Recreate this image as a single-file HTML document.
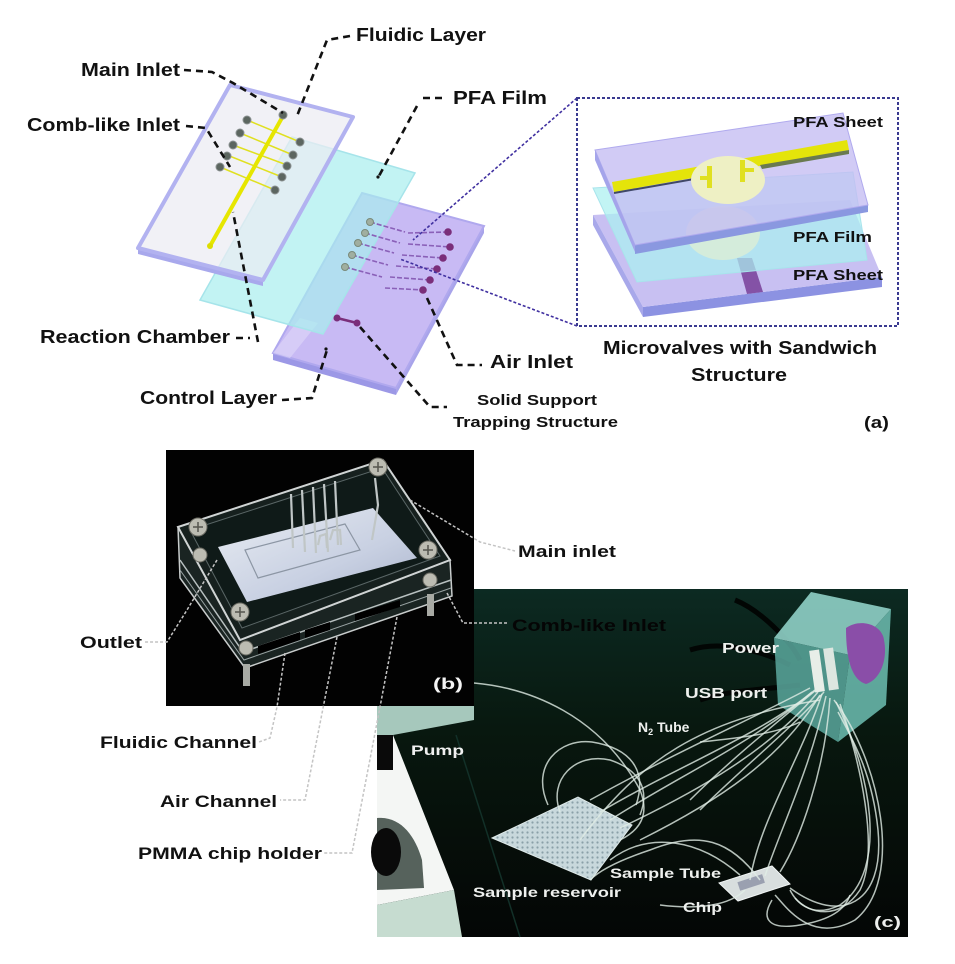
<!DOCTYPE html>
<html><head><meta charset="utf-8"><style>
html,body{margin:0;padding:0;background:#fff;}
svg{display:block;}
text{font-family:"Liberation Sans",Arial,sans-serif;font-weight:bold;}
</style></head><body>
<svg width="955" height="964" viewBox="0 0 955 964" xmlns="http://www.w3.org/2000/svg">
<defs>
<linearGradient id="cbg" x1="0" y1="0" x2="0" y2="1"><stop offset="0" stop-color="#0c2a22"/><stop offset="0.4" stop-color="#08180f"/><stop offset="1" stop-color="#040605"/></linearGradient>
<linearGradient id="chip" x1="0" y1="0" x2="1" y2="1"><stop offset="0" stop-color="#e8ecf2"/><stop offset="0.6" stop-color="#c8d0e2"/><stop offset="1" stop-color="#aab4cc"/></linearGradient>
<pattern id="wells" width="5" height="5" patternUnits="userSpaceOnUse"><rect width="5" height="5" fill="#c8d8dc"/><circle cx="2.5" cy="2.5" r="1.1" fill="#8aa0a8"/></pattern>
</defs>

<!-- ============ PANEL (a) ============ -->
<polygon points="273,353 396,388 396,395 273,360" fill="#9c98e6"/>
<polygon points="484,226 396,388 396,395 484,233" fill="#a8a4ea"/>
<polygon points="362,193 484,226 396,388 273,353" fill="#c8baf4" stroke="#b0a8ee" stroke-width="2"/>
<polygon points="273,353 300,318 318,323 290,358" fill="#dcd4f8" opacity="0.7"/>
<polygon points="292,137 415,173 323,334 200,300" fill="rgba(168,238,238,0.7)" stroke="#a6e4ea" stroke-width="1.5"/>
<polygon points="138,248 263,280 263,286 138,254" fill="#a8a8ec"/>
<polygon points="230,85 353,117 263,280 138,248" fill="rgba(236,236,242,0.72)" stroke="#b2b2f0" stroke-width="4" stroke-linejoin="round"/>
<g stroke="#e0e020" stroke-width="1.5">
<line x1="247" y1="120" x2="300" y2="142"/><line x1="240" y1="133" x2="293" y2="155"/><line x1="233" y1="145" x2="287" y2="165"/><line x1="227" y1="155" x2="282" y2="177"/><line x1="220" y1="167" x2="275" y2="190"/>
</g>
<line x1="283" y1="116" x2="210" y2="246" stroke="#e6e600" stroke-width="4"/>
<circle cx="210" cy="246" r="3" fill="#dddd00"/>
<g fill="#5c6660" stroke="#8a9090" stroke-width="1">
<circle cx="283" cy="115" r="4"/>
<circle cx="247" cy="120" r="4"/><circle cx="240" cy="133" r="4"/><circle cx="233" cy="145" r="4"/><circle cx="227" cy="156" r="4"/><circle cx="220" cy="167" r="4"/>
<circle cx="300" cy="142" r="4"/><circle cx="293" cy="155" r="4"/><circle cx="287" cy="166" r="4"/><circle cx="282" cy="177" r="4"/><circle cx="275" cy="190" r="4"/>
</g>
<g stroke="#8a60b8" stroke-width="1.6" stroke-dasharray="5,2">
<line x1="370" y1="222" x2="405" y2="232"/><line x1="365" y1="233" x2="400" y2="243"/><line x1="358" y1="243" x2="394" y2="253"/><line x1="352" y1="255" x2="388" y2="265"/><line x1="345" y1="267" x2="382" y2="277"/>
<line x1="408" y1="233" x2="448" y2="232"/><line x1="408" y1="244" x2="450" y2="247"/><line x1="402" y1="255" x2="443" y2="258"/><line x1="396" y1="266" x2="437" y2="269"/><line x1="390" y1="277" x2="430" y2="280"/><line x1="385" y1="288" x2="423" y2="290"/>
</g>
<g fill="#a0aea0" stroke="#7a8a7a" stroke-width="1">
<circle cx="370" cy="222" r="3.5"/><circle cx="365" cy="233" r="3.5"/><circle cx="358" cy="243" r="3.5"/><circle cx="352" cy="255" r="3.5"/><circle cx="345" cy="267" r="3.5"/>
</g>
<g fill="#7a2e7a">
<circle cx="448" cy="232" r="3.8"/><circle cx="450" cy="247" r="3.8"/><circle cx="443" cy="258" r="3.8"/><circle cx="437" cy="269" r="3.8"/><circle cx="430" cy="280" r="3.8"/><circle cx="423" cy="290" r="3.8"/>
<circle cx="337" cy="318" r="3.5"/><circle cx="357" cy="323" r="3.5"/>
</g>
<line x1="337" y1="318" x2="357" y2="323" stroke="#7a2e7a" stroke-width="2.5"/>
<circle cx="378" cy="177" r="1.6" fill="#111"/>
<circle cx="326" cy="349" r="1.6" fill="#111"/>

<g stroke="#4030a0" stroke-width="1.6" stroke-dasharray="3,2" fill="none">
<line x1="577" y1="98" x2="413" y2="240"/>
<line x1="577" y1="326" x2="400" y2="259"/>
</g>
<rect x="577" y="98" width="321" height="228" fill="none" stroke="#3a3a90" stroke-width="2" stroke-dasharray="3,2"/>

<polygon points="643,307 882,277 882,287 643,317" fill="#8c92e2"/>
<polygon points="593,215 850,200 882,277 643,307" fill="#c8c0f2"/>
<polygon points="593,215 643,307 643,317 593,225" fill="#a8a8ea"/>
<polygon points="737,258 752,258 763,292 747,294" fill="#8452a6"/>
<polygon points="593,188 853,172 867,260 637,282" fill="rgba(170,240,240,0.72)" stroke="#a8e4ec" stroke-width="1"/>
<ellipse cx="723" cy="233" rx="37" ry="27" fill="#eef4c8" opacity="0.55"/>
<polygon points="635,245 868,205 868,212 635,254" fill="#8a98e0"/>
<polygon points="595,150 843,113 868,205 635,245" fill="rgba(196,188,242,0.78)" stroke="#b0aaee" stroke-width="1"/>
<polygon points="595,150 635,245 635,252 595,160" fill="#a4a4ea"/>
<polygon points="612,182 847,140 849,150 614,192" fill="#e4e40a"/>
<polygon points="760,165 849,150 849,154 762,169" fill="#6a7a50"/>
<line x1="614" y1="193" x2="700" y2="178" stroke="#404868" stroke-width="2"/>
<ellipse cx="728" cy="180" rx="37" ry="24" fill="#eef0c4"/>
<rect x="707" y="166" width="5" height="22" fill="#e0e020"/>
<rect x="740" y="160" width="5" height="22" fill="#e0e020"/>
<rect x="700" y="176" width="10" height="4" fill="#e0e020"/>
<rect x="742" y="168" width="12" height="4" fill="#e0e020"/>

<text x="793" y="127" font-size="15" fill="#111" textLength="90" lengthAdjust="spacingAndGlyphs">PFA Sheet</text>
<text x="793" y="242" font-size="15" fill="#111" textLength="79" lengthAdjust="spacingAndGlyphs">PFA Film</text>
<text x="793" y="280" font-size="15" fill="#111" textLength="90" lengthAdjust="spacingAndGlyphs">PFA Sheet</text>

<g stroke="#111" stroke-width="2.6" stroke-dasharray="7,5" fill="none">
<path d="M350,36 L327,40 L297,116"/>
<path d="M184,70 L212,72 L233,83 L283,113"/>
<path d="M186,126 L206,128 L230,167"/>
<path d="M236,338 L250,338"/>
<path d="M258,342 L233,212"/>
<path d="M282,400 L312,398 L327,350"/>
<path d="M423,98 L447,98"/>
<path d="M417,106 L379,176"/>
<path d="M427,298 L457,365 L482,365"/>
<path d="M360,327 L430,407 L447,407"/>
</g>

<text x="356" y="41" font-size="18" fill="#111" textLength="130" lengthAdjust="spacingAndGlyphs">Fluidic Layer</text>
<text x="81" y="76" font-size="18" fill="#111" textLength="99" lengthAdjust="spacingAndGlyphs">Main Inlet</text>
<text x="27" y="131" font-size="18" fill="#111" textLength="153" lengthAdjust="spacingAndGlyphs">Comb-like Inlet</text>
<text x="40" y="343" font-size="18" fill="#111" textLength="190" lengthAdjust="spacingAndGlyphs">Reaction Chamber</text>
<text x="140" y="404" font-size="18" fill="#111" textLength="137" lengthAdjust="spacingAndGlyphs">Control Layer</text>
<text x="453" y="104" font-size="18" fill="#111" textLength="94" lengthAdjust="spacingAndGlyphs">PFA Film</text>
<text x="490" y="368" font-size="18" fill="#111" textLength="83" lengthAdjust="spacingAndGlyphs">Air Inlet</text>
<text x="477" y="405" font-size="15" fill="#111" textLength="120" lengthAdjust="spacingAndGlyphs">Solid Support</text>
<text x="453" y="427" font-size="15" fill="#111" textLength="165" lengthAdjust="spacingAndGlyphs">Trapping Structure</text>
<text x="603" y="354" font-size="18" fill="#111" textLength="274" lengthAdjust="spacingAndGlyphs">Microvalves with Sandwich</text>
<text x="691" y="381" font-size="18" fill="#111" textLength="96" lengthAdjust="spacingAndGlyphs">Structure</text>
<text x="864" y="428" font-size="17" fill="#111" textLength="25" lengthAdjust="spacingAndGlyphs">(a)</text>

<!-- ============ PANEL (c) ============ -->
<rect x="377" y="589" width="531" height="348" fill="url(#cbg)"/>
<polygon points="377,706 474,706 474,720 393,735 377,735" fill="#a6c8bc"/>
<polygon points="377,735 393,735 393,770 377,770" fill="#0a0a0a"/>
<polygon points="377,770 393,770 393,735 454,890 377,905" fill="#f4f6f4"/>
<polygon points="377,905 454,890 462,937 377,937" fill="#c6dcd0"/>
<path d="M377,818 C400,816 415,835 422,860 L424,888 L377,890 Z" fill="#56625c"/>
<ellipse cx="386" cy="852" rx="15" ry="24" fill="#0a0a0a"/>
<line x1="456" y1="735" x2="520" y2="937" stroke="#123028" stroke-width="1.5"/>
<!-- dark cables -->
<g stroke="#020604" stroke-width="5" fill="none">
<path d="M735,600 C760,610 790,640 800,660"/>
<path d="M700,700 C730,690 760,690 800,685"/>
<path d="M690,650 C720,640 760,650 790,665"/>
</g>
<!-- box -->
<polygon points="774,638 811,592 891,609 850,655" fill="#8fd0c6" opacity="0.9"/>
<polygon points="774,638 850,655 838,742 778,705" fill="#5aa89e" opacity="0.85"/>
<polygon points="850,655 891,609 886,705 838,742" fill="#68b6aa" opacity="0.9"/>
<path d="M846,628 C860,618 882,624 884,640 C888,660 880,680 866,684 C852,680 846,660 846,628 Z" fill="#8a4ea8"/>
<rect x="812" y="650" width="10" height="42" fill="#e8eee8" transform="rotate(-8 817 671)"/>
<rect x="826" y="648" width="10" height="42" fill="#dde6e0" transform="rotate(-8 831 669)"/>
<!-- well plate -->
<polygon points="492,838 578,797 632,825 591,880" fill="url(#wells)" stroke="#dfeaea" stroke-width="1"/>
<!-- chip -->
<polygon points="719,883 772,866 790,884 738,901" fill="#d8dede" stroke="#f0f4f4" stroke-width="1"/>
<rect x="738" y="878" width="26" height="9" fill="#9aa0b0" transform="rotate(-18 751 882)"/>
<!-- tubes -->
<g stroke="rgba(225,238,230,0.8)" stroke-width="1.5" fill="none">
<path d="M474,683 C530,688 600,715 640,790 C650,815 640,830 620,840"/>
<path d="M548,805 C530,765 560,738 592,742 C630,748 648,770 636,805"/>
<path d="M560,812 C548,780 575,752 610,760 C640,770 650,790 640,815"/>
<path d="M700,742 C740,738 775,734 800,722"/>
<path d="M815,690 C760,735 680,765 600,812"/>
<path d="M812,692 C750,745 680,775 610,820"/>
<path d="M818,692 C770,750 700,790 620,828"/>
<path d="M810,688 C750,720 680,750 590,800"/>
<path d="M820,695 C780,760 720,800 640,840"/>
<path d="M822,694 C800,760 760,820 750,880"/>
<path d="M826,696 C810,770 780,830 765,876"/>
<path d="M830,698 C825,770 800,840 780,872"/>
<path d="M834,700 C880,760 905,880 855,920 C810,945 785,905 775,895"/>
<path d="M836,702 C870,770 890,870 840,905 C810,920 795,900 790,890"/>
<path d="M840,704 C860,760 880,850 860,890 C840,920 810,915 795,898"/>
<path d="M790,888 C840,925 885,905 878,830 C872,770 850,735 838,712"/>
<path d="M760,880 C730,840 700,830 650,850 C620,860 600,870 590,880"/>
<path d="M610,860 C650,830 700,840 740,875"/>
<path d="M820,700 C700,720 640,760 580,840"/>
<path d="M745,890 C730,905 700,910 660,905"/>
<path d="M772,900 C760,920 770,930 800,925 C830,920 845,910 850,895"/>
<path d="M816,690 C780,720 730,760 690,800"/>
<path d="M824,692 C790,730 740,770 700,810"/>
</g>
<text x="411" y="755" font-size="14" fill="#f0f0f0" textLength="53" lengthAdjust="spacingAndGlyphs">Pump</text>
<text x="722" y="653" font-size="15" fill="#eef0ee" textLength="57" lengthAdjust="spacingAndGlyphs">Power</text>
<text x="685" y="698" font-size="15" fill="#eef0ee" textLength="82" lengthAdjust="spacingAndGlyphs">USB port</text>
<text x="638" y="732" font-size="14" fill="#eef0ee">N<tspan font-size="9" dy="3">2</tspan><tspan dy="-3"> Tube</tspan></text>
<text x="610" y="878" font-size="14" fill="#eef0ee" textLength="111" lengthAdjust="spacingAndGlyphs">Sample Tube</text>
<text x="473" y="897" font-size="14" fill="#eef0ee" textLength="148" lengthAdjust="spacingAndGlyphs">Sample reservoir</text>
<text x="683" y="912" font-size="14" fill="#eef0ee" textLength="39" lengthAdjust="spacingAndGlyphs">Chip</text>
<text x="874" y="927" font-size="15" fill="#eef0ee" textLength="27" lengthAdjust="spacingAndGlyphs">(c)</text>

<!-- ============ PANEL (b) ============ -->
<rect x="166" y="450" width="308" height="256" fill="#020202"/>
<polygon points="178,527 180,578 245,668 452,596 450,560 240,640" fill="#1a2422" stroke="#c8cccc" stroke-width="1.5"/>
<polyline points="180,560 243,652 451,580" fill="none" stroke="#b8c0c0" stroke-width="1.5"/>
<polyline points="180,570 244,660 451,588" fill="none" stroke="#9aa4a4" stroke-width="1"/>
<g fill="#000">
<polygon points="258,646 300,632 300,640 258,654"/>
<polygon points="305,630 330,622 330,630 305,638"/>
<polygon points="355,614 400,600 400,607 355,621"/>
</g>
<polygon points="178,527 383,460 450,560 240,640" fill="#16201e" stroke="#d0d4d4" stroke-width="2"/>
<polygon points="190,530 382,468 440,556 242,628" fill="#0f1a18" stroke="#5a6666" stroke-width="1"/>
<polygon points="218,547 373,508 417,558 247,602" fill="url(#chip)"/>
<polygon points="245,550 345,524 360,550 258,578" fill="none" stroke="#8c96a4" stroke-width="1.2"/>
<g stroke="#c0c6c6" stroke-width="2.2" fill="none">
<path d="M291,494 L293,548"/><path d="M302,490 L305,552"/><path d="M313,487 L316,553"/><path d="M324,484 L328,552"/><path d="M335,481 L338,545"/>
<path d="M318,545 L320,536 L326,534 L327,548"/><path d="M330,540 L333,530 L340,530 L341,545"/>
<path d="M375,478 L378,505 L372,540"/>
</g>
<g fill="#bcbcb2" stroke="#6a6a62" stroke-width="1">
<circle cx="198" cy="527" r="9"/><circle cx="378" cy="467" r="9"/><circle cx="428" cy="550" r="9"/><circle cx="240" cy="612" r="9"/>
<circle cx="246" cy="648" r="7"/><circle cx="430" cy="580" r="7"/><circle cx="200" cy="555" r="7"/>
</g>
<g stroke="#55554e" stroke-width="1.5">
<path d="M193,527 h10 M198,522 v10"/><path d="M373,467 h10 M378,462 v10"/><path d="M423,550 h10 M428,545 v10"/><path d="M235,612 h10 M240,607 v10"/>
</g>
<rect x="243" y="664" width="7" height="22" fill="#a8aaa4"/>
<rect x="427" y="594" width="7" height="22" fill="#a8aaa4"/>
<text x="433" y="689" font-size="16" fill="#f4f4f4" textLength="30" lengthAdjust="spacingAndGlyphs">(b)</text>

<g stroke="#c4c4c4" stroke-width="1.5" stroke-dasharray="3,2" fill="none">
<path d="M410,500 L480,542 L515,551"/>
<path d="M447,593 L463,623 L508,623"/>
<path d="M217,560 L187,610 L167,642 L145,642"/>
<path d="M285,653 L277,707 L270,738 L259,742"/>
<path d="M337,637 L325,698 L305,800 L280,800"/>
<path d="M397,617 L380,707 L352,853 L324,853"/>
</g>
<text x="518" y="557" font-size="17" fill="#111" textLength="98" lengthAdjust="spacingAndGlyphs">Main inlet</text>
<text x="512" y="631" font-size="17" fill="#050505" textLength="154" lengthAdjust="spacingAndGlyphs">Comb-like Inlet</text>
<text x="80" y="648" font-size="17" fill="#111" textLength="62" lengthAdjust="spacingAndGlyphs">Outlet</text>
<text x="100" y="748" font-size="17" fill="#111" textLength="157" lengthAdjust="spacingAndGlyphs">Fluidic Channel</text>
<text x="160" y="807" font-size="17" fill="#111" textLength="117" lengthAdjust="spacingAndGlyphs">Air Channel</text>
<text x="138" y="859" font-size="17" fill="#111" textLength="184" lengthAdjust="spacingAndGlyphs">PMMA chip holder</text>
</svg>
</body></html>
